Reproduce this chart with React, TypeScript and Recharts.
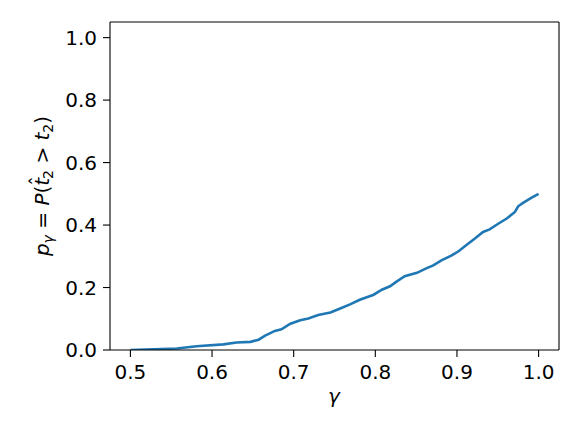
import React from 'react';
import { LineChart, Line, XAxis, YAxis, ReferenceLine } from 'recharts';

const gammaValues = [0.5, 0.557, 0.581, 0.614, 0.63, 0.647, 0.657, 0.665, 0.677, 0.685, 0.696, 0.708, 0.718, 0.73, 0.745, 0.757, 0.769, 0.781, 0.798, 0.808, 0.818, 0.826, 0.836, 0.851, 0.863, 0.871, 0.881, 0.893, 0.902, 0.912, 0.922, 0.932, 0.94, 0.951, 0.961, 0.971, 0.975, 0.981, 0.991, 1.0];
const pValues = [0.0, 0.005, 0.012, 0.018, 0.024, 0.026, 0.033, 0.046, 0.061, 0.066, 0.084, 0.095, 0.101, 0.112, 0.12, 0.133, 0.146, 0.161, 0.177, 0.193, 0.204, 0.219, 0.236, 0.247, 0.262, 0.271, 0.287, 0.302, 0.316, 0.337, 0.357, 0.378, 0.386, 0.405, 0.421, 0.442, 0.46, 0.471, 0.487, 0.5];
const xTicks = [0.5, 0.6, 0.7, 0.8, 0.9, 1.0];
const yTicks = [0, 0.2, 0.4, 0.6, 0.8, 1.0];

const data = gammaValues.map((g, i) => ({ g, p: pValues[i] }));

const FONT = 'DejaVu Sans, sans-serif';
const FS = 20;
const SUB = 14;

const YLabel = () => (
  <text
    x={49}
    y={186}
    transform="rotate(-90, 49, 186)"
    textAnchor="middle"
    fontFamily={FONT}
    fontSize={FS}
    fill="#000"
  >
    <tspan fontStyle="italic">p</tspan>
    <tspan fontStyle="italic" fontSize={SUB} dy={4}>γ</tspan>
    <tspan dy={-4}> = </tspan>
    <tspan fontStyle="italic">P</tspan>
    <tspan>(</tspan>
    <tspan fontStyle="italic">t</tspan>
    <tspan dx={-8} dy={-5}>ˆ</tspan>
    <tspan fontSize={SUB} dx={-3} dy={9}>2</tspan>
    <tspan dy={-4}> &gt; </tspan>
    <tspan fontStyle="italic">t</tspan>
    <tspan fontSize={SUB} dy={4}>2</tspan>
    <tspan dy={-4}>)</tspan>
  </text>
);

const XLabel = () => (
  <text x={334} y={403} textAnchor="middle" fontFamily={FONT} fontSize={FS} fontStyle="italic" fill="#000">
    γ
  </text>
);

export default function App() {
  return (
    <div style={{ position: 'absolute', left: 0, top: 0, width: 581, height: 436, background: '#fff' }}>
      <LineChart width={581} height={436} data={data} margin={{ top: 22, right: 22, bottom: 56, left: 0 }}>
        <XAxis
          dataKey="g"
          type="number"
          domain={[0.475, 1.025]}
          allowDataOverflow
          ticks={xTicks}
          tickFormatter={(v: number) => v.toFixed(1)}
          height={30}
          tickSize={7}
          tickMargin={8}
          stroke="#000"
          strokeWidth={1.1}
          tick={{ fill: '#000', fontSize: FS, fontFamily: FONT }}
          label={{ content: () => <XLabel /> }}
        />
        <YAxis
          type="number"
          domain={[0, 1.05]}
          allowDataOverflow
          ticks={yTicks}
          tickFormatter={(v: number) => v.toFixed(1)}
          width={110}
          tickSize={7}
          tickMargin={6}
          stroke="#000"
          strokeWidth={1.1}
          tick={{ fill: '#000', fontSize: FS, fontFamily: FONT }}
          label={{ content: () => <YLabel /> }}
        />
        <ReferenceLine y={1.05} stroke="#000" strokeWidth={1.1} ifOverflow="visible" />
        <ReferenceLine x={1.025} stroke="#000" strokeWidth={1.1} ifOverflow="visible" />
        <Line dataKey="p" type="linear" stroke="#1f77b4" strokeWidth={2.6} dot={false} isAnimationActive={false} />
      </LineChart>
    </div>
  );
}
